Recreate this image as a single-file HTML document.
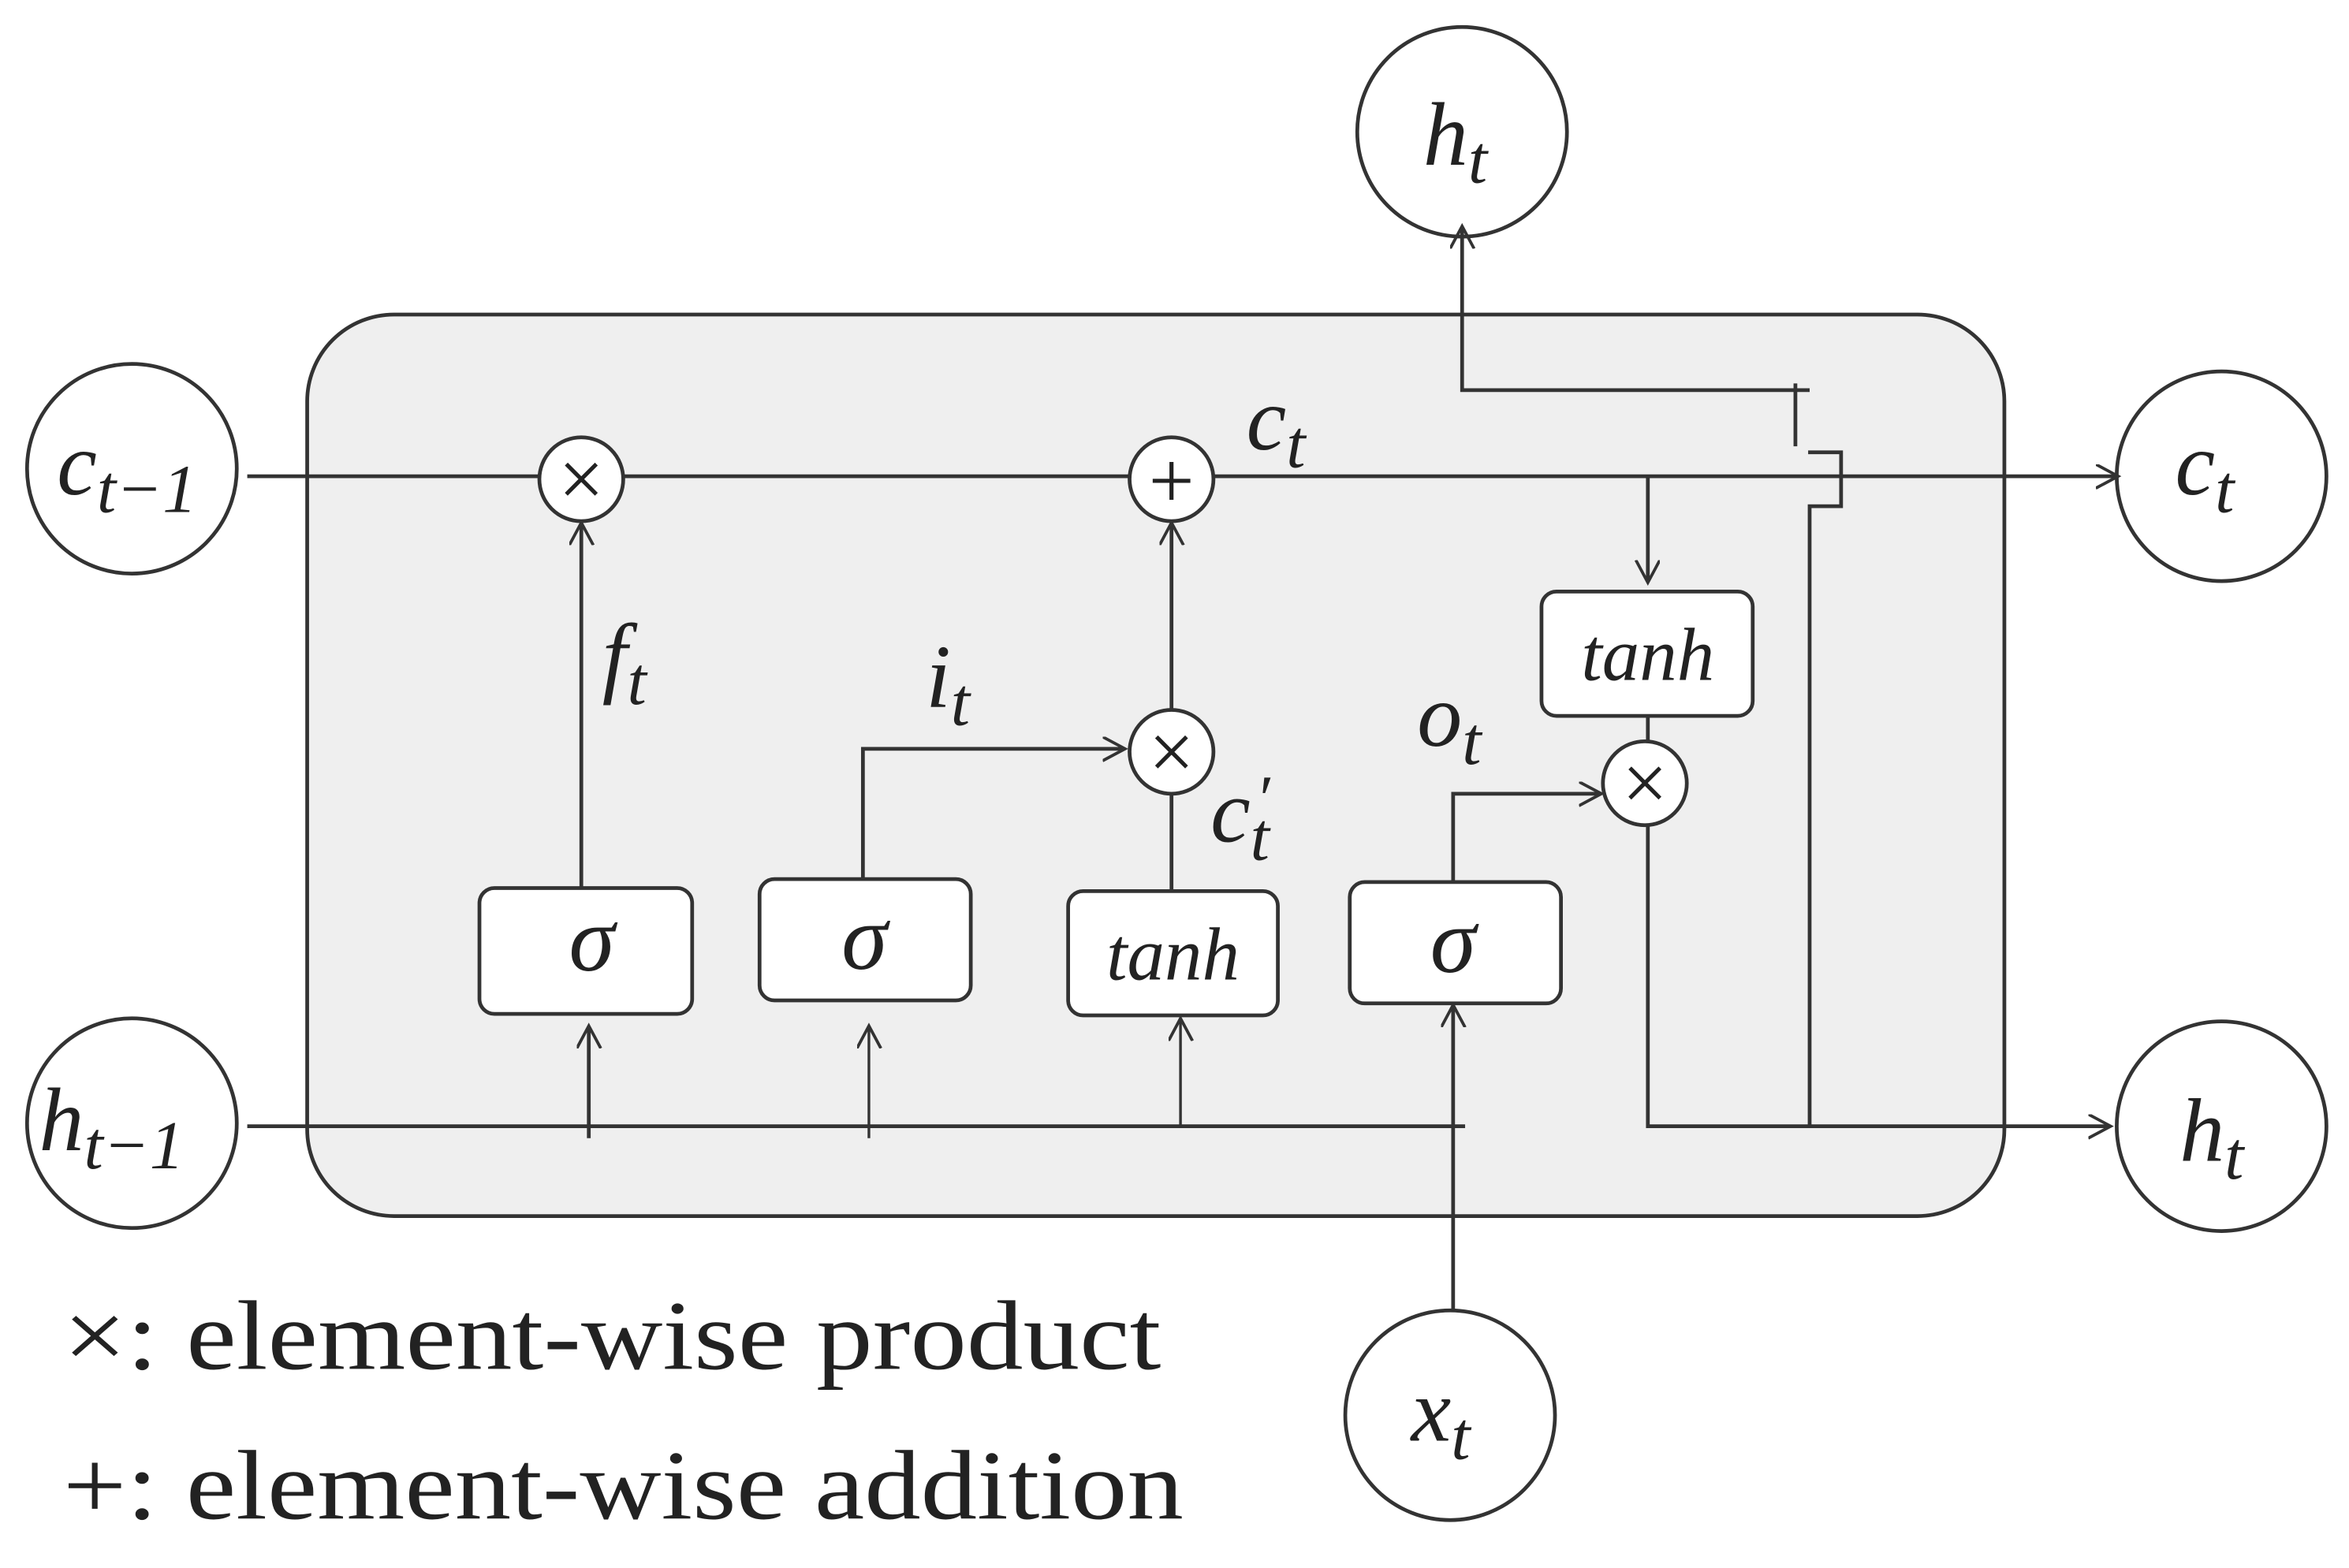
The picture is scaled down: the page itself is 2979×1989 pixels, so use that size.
<!DOCTYPE html>
<html><head><meta charset="utf-8"><style>
html,body{margin:0;padding:0;background:#fff;}
svg{display:block;}
text{font-family:"Liberation Serif","DejaVu Serif",serif;fill:#222;}
.it{font-style:italic;}
</style></head><body>
<svg width="2979" height="1989" viewBox="0 0 1568 1047" xmlns="http://www.w3.org/2000/svg">
<defs>
<marker id="a" markerWidth="20" markerHeight="20" refX="14" refY="8" orient="auto" markerUnits="userSpaceOnUse">
<path d="M0,0 L15,8 L0,16" fill="none" stroke="#333" stroke-width="2"/>
</marker>
</defs>
<g stroke="#333" stroke-width="2.5" fill="none">
<rect x="205" y="210" width="1133" height="602" rx="58" fill="#efefef"/>
<circle cx="88" cy="313" r="70" fill="#fff"/>
<circle cx="88" cy="750" r="70" fill="#fff"/>
<circle cx="976" cy="88" r="70" fill="#fff"/>
<circle cx="1483" cy="318" r="70" fill="#fff"/>
<circle cx="1483" cy="752" r="70" fill="#fff"/>
<circle cx="968" cy="945" r="70" fill="#fff"/>
<line x1="165" y1="318" x2="1413" y2="318" marker-end="url(#a)"/>
<line x1="165" y1="752" x2="978" y2="752"/>
<path d="M1100,550 V752 H1408" marker-end="url(#a)"/>
<line x1="393" y1="760" x2="393" y2="686" marker-end="url(#a)"/>
<line x1="580" y1="760" x2="580" y2="686" marker-end="url(#a)" stroke-width="1.8"/>
<line x1="788" y1="752" x2="788" y2="681" marker-end="url(#a)" stroke-width="1.8"/>
<line x1="970" y1="875" x2="970" y2="672" marker-end="url(#a)"/>
<line x1="388" y1="593" x2="388" y2="350" marker-end="url(#a)"/>
<path d="M576,587 V500 H750" marker-end="url(#a)"/>
<line x1="782" y1="595" x2="782" y2="530"/>
<line x1="782" y1="474" x2="782" y2="350" marker-end="url(#a)"/>
<path d="M970,589 V530 H1068" marker-end="url(#a)"/>
<line x1="1100" y1="318" x2="1100" y2="388" marker-end="url(#a)"/>
<line x1="1100" y1="478" x2="1100" y2="496"/>
<path d="M1208,752 V338 H1229 V302 H1207"/>
<line x1="1198.5" y1="256" x2="1198.5" y2="298"/>
<path d="M1208,260.5 H976 V152" marker-end="url(#a)"/>
<rect x="320" y="593" width="142" height="84" rx="10" fill="#fff"/>
<rect x="507" y="587" width="141" height="81" rx="10" fill="#fff"/>
<rect x="713" y="595" width="140" height="83" rx="10" fill="#fff"/>
<rect x="901" y="589" width="141" height="81" rx="10" fill="#fff"/>
<rect x="1029" y="395" width="141" height="83" rx="10" fill="#fff"/>
<circle cx="388" cy="320" r="28" fill="#fff"/>
<circle cx="782" cy="320" r="28" fill="#fff"/>
<circle cx="782" cy="502" r="28" fill="#fff"/>
<circle cx="1098" cy="523" r="28" fill="#fff"/>
</g>
<g font-size="54" text-anchor="middle">
<text x="388" y="338">×</text>
<text x="782" y="339">+</text>
<text x="782" y="520">×</text>
<text x="1098" y="541">×</text>
</g>
<g class="it" text-anchor="middle">
<text x="395" y="648" font-size="62">σ</text>
<text x="577" y="647" font-size="62">σ</text>
<text x="970" y="649" font-size="62">σ</text>
<text x="783" y="654" font-size="50">tanh</text>
<text x="1100" y="454" font-size="50">tanh</text>
</g>
<g class="it" font-size="60">
<text x="38" y="330">c<tspan font-size="46" dy="12">t−1</tspan></text>
<text x="26" y="768">h<tspan font-size="46" dy="12">t−1</tspan></text>
<text x="950" y="110">h<tspan font-size="46" dy="12">t</tspan></text>
<text x="1452" y="330">c<tspan font-size="46" dy="12">t</tspan></text>
<text x="1455" y="775">h<tspan font-size="46" dy="12">t</tspan></text>
<text x="942" y="962">x<tspan font-size="46" dy="12">t</tspan></text>
<text x="832" y="300">c<tspan font-size="46" dy="12">t</tspan></text>
<text x="402" y="458">f<tspan font-size="46" dy="12">t</tspan></text>
<text x="618" y="472">i<tspan font-size="46" dy="12">t</tspan></text>
<text x="808" y="562">c<tspan font-size="46" dy="12">t</tspan></text>
<text x="838" y="548" font-size="44">′</text>
<text x="946" y="498">o<tspan font-size="46" dy="12">t</tspan></text>
</g>
<g font-size="66">
<text x="42" y="914" textLength="733" lengthAdjust="spacingAndGlyphs">×: element-wise product</text>
<text x="42" y="1014" textLength="748" lengthAdjust="spacingAndGlyphs">+: element-wise addition</text>
</g>
</svg>
</body></html>
